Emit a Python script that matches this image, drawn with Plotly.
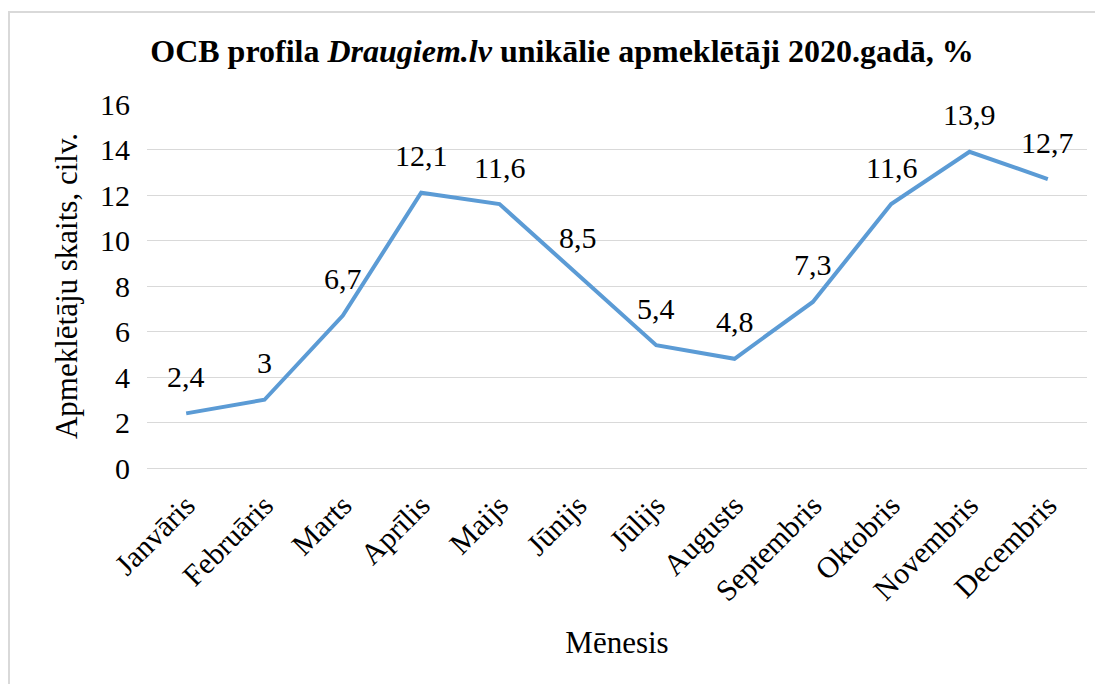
import plotly.graph_objects as go

months = ["Janvāris", "Februāris", "Marts", "Aprīlis", "Maijs", "Jūnijs",
          "Jūlijs", "Augusts", "Septembris", "Oktobris", "Novembris", "Decembris"]
values = [2.4, 3, 6.7, 12.1, 11.6, 8.5, 5.4, 4.8, 7.3, 11.6, 13.9, 12.7]
labels = [f"{v:g}".replace(".", ",") for v in values]

FONT = "'Liberation Serif', 'Times New Roman', 'DejaVu Serif', serif"
FS = 30

fig = go.Figure()
fig.add_trace(go.Scatter(
    x=months, y=values, mode="lines",
    line=dict(color="#5B9BD5", width=4),
    hoverinfo="x+y", showlegend=False,
))

for m, v, t in zip(months, values, labels):
    fig.add_annotation(x=m, y=v, text=t, showarrow=False, yshift=37,
                       font=dict(family=FONT, size=FS, color="#000000"))

# page has 8px body margin; figure coords = page coords - 8
FW, FH = 1095, 676
L, T = 139, 96
R, B = 16, 216
W = FW - L - R
H = FH - T - B
fig.add_shape(type="rect", xref="paper", yref="paper",
              x0=(1 - L) / W, x1=(FW + 20 - L) / W,
              y0=-(B + 30) / H, y1=(FH - B - 4) / H,
              line=dict(color="#D9D9D9", width=2), layer="below")

fig.update_layout(
    width=FW, height=FH,
    margin=dict(l=L, r=R, t=T, b=B, autoexpand=False),
    paper_bgcolor="white", plot_bgcolor="white",
    font=dict(family=FONT, size=FS, color="#000000"),
    title=dict(text="<b>OCB profila <i>Draugiem.lv</i> unikālie apmeklētāji 2020.gadā, %</b>",
               x=554 / FW, xanchor="center", y=1 - 43 / FH, yanchor="middle",
               font=dict(family=FONT, size=32, color="#000000")),
    xaxis=dict(
        type="category", range=[-0.5, 11.5], tickangle=-45,
        showgrid=False, showline=False, ticks="", automargin=False,
        tickfont=dict(family=FONT, size=FS, color="#000000"),
        ticklabelstandoff=13,
        title=dict(text="Mēnesis", font=dict(family=FONT, size=31, color="#000000"),
                   standoff=24),
    ),
    yaxis=dict(
        range=[0, 16], dtick=2, showgrid=True, gridcolor="#D9D9D9", gridwidth=1,
        zeroline=True, zerolinecolor="#D9D9D9", zerolinewidth=1,
        showline=False, ticks="", automargin=False,
        tickfont=dict(family=FONT, size=FS, color="#000000"),
        ticklabelstandoff=16,
        title=dict(text="Apmeklētāju skaits, cilv.",
                   font=dict(family=FONT, size=31, color="#000000"), standoff=13),
    ),
)

fig.write_html("out.html")
